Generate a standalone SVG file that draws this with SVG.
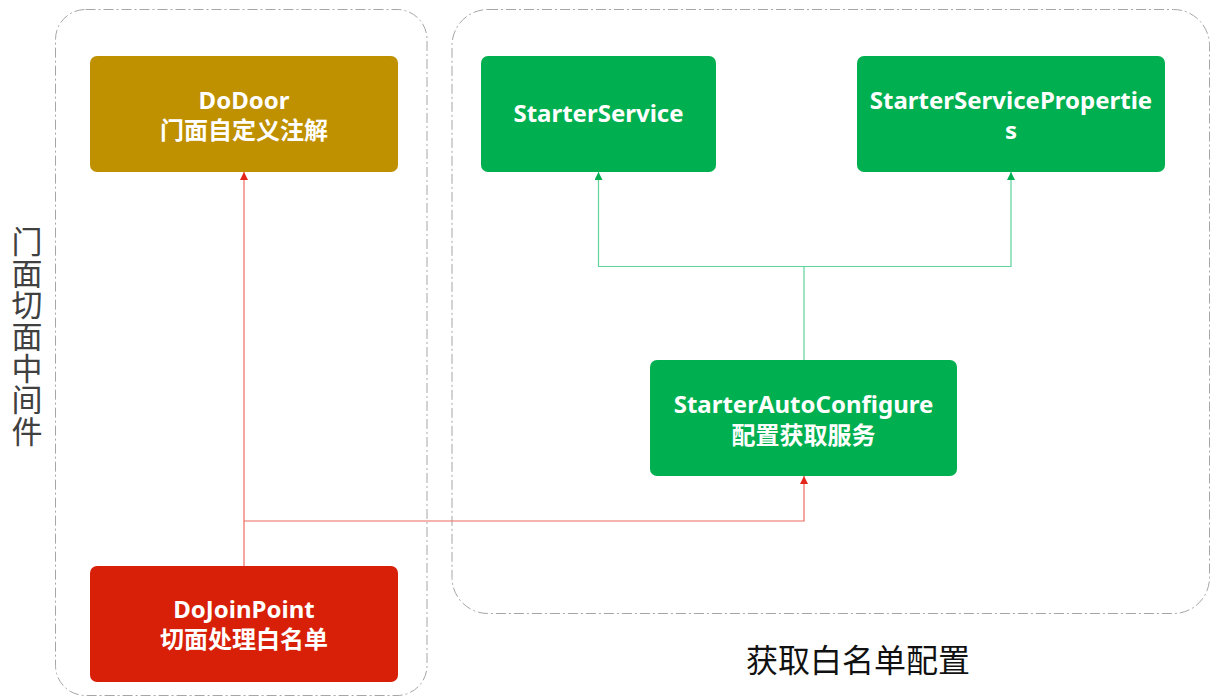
<svg xmlns="http://www.w3.org/2000/svg" width="1211" height="697" viewBox="0 0 1211 697">
  <defs>
    <style>
      .container { fill: none; stroke: #A6A6A6; stroke-width: 1; stroke-dasharray: 10 3 2 3; }
      .box-text { fill: #FFFFFF; font-family: "Noto Sans", "Noto Sans CJK SC", sans-serif; font-weight: bold; font-size: 24px; text-anchor: middle; }
      .cjk { font-family: "Noto Sans CJK SC", sans-serif; }
      .red-line { fill: none; stroke: #EE6A60; stroke-width: 1.2; }
      .green-line { fill: none; stroke: #5ED39A; stroke-width: 1.2; }
      .label { font-family: "Noto Sans CJK SC", sans-serif; font-weight: normal; }
    </style>
    <marker id="arrow-red" viewBox="0 0 8 8" refX="8" refY="4" markerWidth="8" markerHeight="8" markerUnits="userSpaceOnUse" orient="auto">
      <path d="M0,0 L8,4 L0,8 Z" fill="#E3261A"/>
    </marker>
    <marker id="arrow-green" viewBox="0 0 8 8" refX="8" refY="4" markerWidth="8" markerHeight="8" markerUnits="userSpaceOnUse" orient="auto">
      <path d="M0,0 L8,4 L0,8 Z" fill="#00B050"/>
    </marker>
  </defs>

  <rect x="0" y="0" width="1211" height="697" fill="#FFFFFF"/>

  <g id="containers">
    <rect id="facade-container" class="container" x="55.5" y="9.5" width="371.5" height="686" rx="30" ry="30"/>
    <rect id="whitelist-container" class="container" x="452" y="9.5" width="757.5" height="604" rx="36" ry="36"/>
  </g>

  <g id="connectors">
    <path class="red-line" d="M244,566 L244,172" marker-end="url(#arrow-red)"/>
    <path class="red-line" d="M244,521 L804,521 L804,476" marker-end="url(#arrow-red)"/>
    <path class="green-line" d="M804,360 L804,266.5 L598.5,266.5 L598.5,172" marker-end="url(#arrow-green)"/>
    <path class="green-line" d="M804,266.5 L1011,266.5 L1011,172" marker-end="url(#arrow-green)"/>
  </g>

  <g id="DoDoor">
    <rect x="90" y="56" width="308" height="116" rx="7" ry="7" fill="#BF9000"/>
    <text class="box-text"><tspan x="244" y="109">DoDoor</tspan><tspan class="cjk" x="244" y="139">门面自定义注解</tspan></text>
  </g>

  <g id="StarterService">
    <rect x="481" y="56" width="235" height="116" rx="7" ry="7" fill="#00B050"/>
    <text class="box-text" x="598.5" y="122">StarterService</text>
  </g>

  <g id="StarterServiceProperties">
    <rect x="857" y="56" width="308" height="116" rx="7" ry="7" fill="#00B050"/>
    <text class="box-text"><tspan x="1011" y="109">StarterServicePropertie</tspan><tspan x="1011" y="139">s</tspan></text>
  </g>

  <g id="StarterAutoConfigure">
    <rect x="650" y="360" width="307" height="116" rx="7" ry="7" fill="#00B050"/>
    <text class="box-text"><tspan x="803.5" y="413">StarterAutoConfigure</tspan><tspan class="cjk" x="803.5" y="444">配置获取服务</tspan></text>
  </g>

  <g id="DoJoinPoint">
    <rect x="90" y="566" width="308" height="116" rx="7" ry="7" fill="#D81F07"/>
    <text class="box-text"><tspan x="244" y="618">DoJoinPoint</tspan><tspan class="cjk" x="244" y="648">切面处理白名单</tspan></text>
  </g>

  <g id="labels">
    <text class="label" fill="#404040" font-size="31" x="27" y="226" letter-spacing="0.6" style="writing-mode: vertical-rl;">门面切面中间件</text>
    <text class="label" fill="#111111" font-size="32" text-anchor="middle" x="858" y="672">获取白名单配置</text>
  </g>
</svg>
